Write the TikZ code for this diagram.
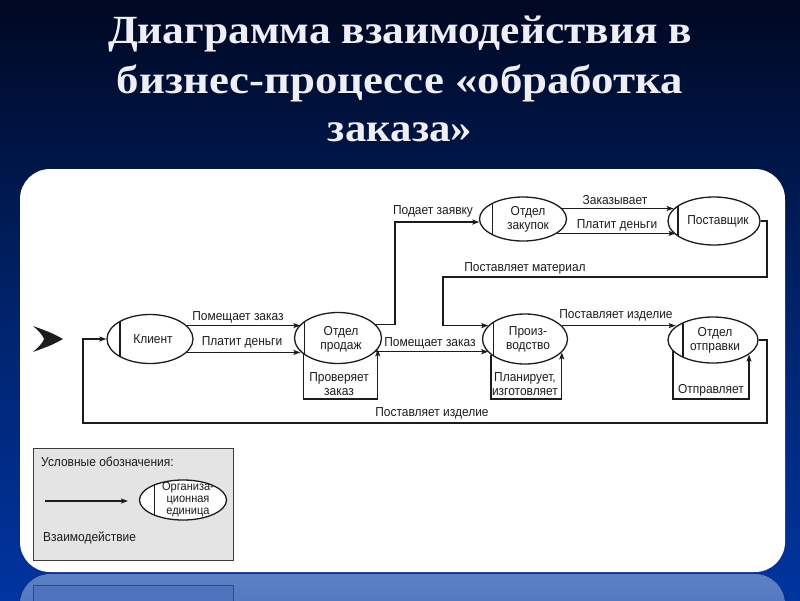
\documentclass[tikz,border=0pt]{standalone}
\usepackage{fontspec}
\setmainfont{Liberation Serif}
\newfontfamily\nf[FakeStretch=0.92]{Liberation Sans}
\usetikzlibrary{shapes.geometric,arrows.meta,calc}
\definecolor{ink}{HTML}{1C1C1C}
\definecolor{bgtop}{RGB}{0,8,34}
\definecolor{bgmid}{RGB}{0,34,105}
\definecolor{bgbot}{RGB}{0,52,160}
\definecolor{refltop}{RGB}{92,128,196}
\definecolor{reflbot}{RGB}{62,100,180}
\definecolor{legfill}{HTML}{E4E4E4}
\tikzset{
  conn/.style={draw=ink, line width=1.3pt, -{Stealth[length=7pt,width=5pt,inset=1.5pt]}},
  orgunit/.style n args={3}{ellipse, draw=ink, line width=1.3pt, inner sep=0pt,
     minimum width=#1, minimum height=#2, fill=white,
     path picture={\draw[ink,line width=1.3pt]
        ([xshift=#3]path picture bounding box.north west) --
        ([xshift=#3]path picture bounding box.south west);}},
  lbl/.style={font=\nf\fontsize{13}{14}\selectfont, align=center, inner sep=0pt, text=ink},
  legtext/.style={font=\nf\fontsize{12}{12}\selectfont, align=center, inner sep=0pt, text=ink},
  titletext/.style={font=\bfseries\fontsize{40}{42}\selectfont, text={rgb,255:red,238;green,238;blue,244}, inner sep=0pt, anchor=base},
}
\begin{document}
\begin{tikzpicture}[x=1pt,y=-1pt]
\useasboundingbox (0,0) rectangle (800,600);
% background
\fill[top color=bgtop, bottom color=bgbot, middle color=bgmid] (0,0) rectangle (800,600);
% reflection
\begin{scope}
  \clip (0,573) rectangle (800,600);
  \fill[top color=refltop, bottom color=reflbot, rounded corners=30pt] (20,574) rectangle (785,700);
  \draw[draw={rgb,255:red,40;green,75;blue,150}, fill={rgb,255:red,80;green,115;blue,190}, line width=0.8pt] (33,585) rectangle (233,640);
\end{scope}
% white panel
\fill[white, rounded corners=30pt] (20,169) rectangle (785,572);

% title
\node[titletext] (t1) at (400,43) {\resizebox{584pt}{\height}{Диаграмма взаимодействия в}};
\node[titletext] (t2) at (400,93) {\resizebox{566pt}{\height}{бизнес-процессе «обработка}};
\node[titletext] (t3) at (400,141) {\resizebox{144pt}{\height}{заказа»}};

% start marker
\fill[ink] (63,339) .. controls (52,333) .. (33,326) .. controls (40,332) and (43,336) .. (44,339)
  .. controls (43,342) and (40,346) .. (33,352) .. controls (52,345) .. (63,339) -- cycle;

% organisational units
\node[orgunit={86pt}{49pt}{13pt}] (cl) at (150,339) {};
\node[lbl] (clt) at (153,339) {Клиент};
\node[orgunit={87pt}{51pt}{10pt}] (sales) at (338,338) {};
\node[lbl] (salest) at (341,339) {Отдел\\продаж};
\node[orgunit={87pt}{44pt}{13pt}] (purch) at (523,219) {};
\node[lbl] (purcht) at (528,219) {Отдел\\закупок};
\node[orgunit={92pt}{48pt}{10pt}] (supp) at (714,221) {};
\node[lbl] (suppt) at (718,221) {Поставщик};
\node[orgunit={85pt}{50pt}{11pt}] (prod) at (525,339) {};
\node[lbl] (prodt) at (528,339) {Произ-\\водство};
\node[orgunit={90pt}{46pt}{15pt}] (ship) at (713,340) {};
\node[lbl] (shipt) at (715,340) {Отдел\\отправки};

% helper coordinates
\coordinate (bx) at (395,0);
\coordinate (lowy) at (0,399);
\coordinate (sr) at (767,277);
\coordinate (sl) at (443,277);
\coordinate (br) at (767,423);
\coordinate (bl) at (83,423);

% connectors
\draw[conn] (cl.20) -- (cl.20 -| sales.160);
\draw[conn] (cl.-20) -- (cl.-20 -| sales.200);
\draw[conn] (sales.20) -- (sales.20 -| bx) |- (purch.184);
\draw[conn] (sales.-20) -- (sales.-20 -| prod.200);
\draw[conn] (sales.205) |- (sales.-16 |- lowy) -- (sales.-16);
\draw[conn] (purch.15) -- (purch.15 -| supp.163);
\draw[conn] (purch.-23) -- (purch.-23 -| supp.200);
\draw[conn] (supp.east) -| (sr) -- (sl) |- (prod.160);
\draw[conn] (prod.20) -- (prod.20 -| ship.160);
\draw[conn] (prod.205) |- (prod.-20 |- lowy) -- (prod.-20);
\draw[conn] (ship.196) |- (ship.-22 |- lowy) -- (ship.-22);
\draw[conn] (ship.east) -| (br) -- (bl) |- (cl.west);

% connector labels
\node[lbl] (l1) at (238,317) {Помещает заказ};
\node[lbl] (l2) at (242,342) {Платит деньги};
\node[lbl] (l3) at (433,211) {Подает заявку};
\node[lbl] (l4) at (430,343) {Помещает заказ};
\node[lbl] (l5) at (339,384) {Проверяет\\заказ};
\node[lbl] (l6) at (615,200) {Заказывает};
\node[lbl] (l7) at (617,225) {Платит деньги};
\node[lbl] (l8) at (525,268) {Поставляет материал};
\node[lbl] (l9) at (616,315) {Поставляет изделие};
\node[lbl] (l10) at (525,384) {Планирует,\\изготовляет};
\node[lbl] (l11) at (711,390) {Отправляет};
\node[lbl] (l12) at (432,413) {Поставляет изделие};

% legend
\draw[fill=legfill, draw={rgb,255:red,60;green,60;blue,60}, line width=1pt] (33,448) rectangle (233,560);
\node[lbl, anchor=west] (lg1) at (41,462) {Условные обозначения:};
\coordinate (la) at (45,501);
\coordinate (lb) at (128,501);
\draw[conn] (la) -- (lb);
\node[orgunit={87pt}{40pt}{15pt}] (lgu) at (183,500) {};
\node[legtext] (lgut) at (188,499) {Организа-\\ционная\\единица};
\node[lbl, anchor=west] (lg2) at (43,538) {Взаимодействие};
\end{tikzpicture}
\end{document}
